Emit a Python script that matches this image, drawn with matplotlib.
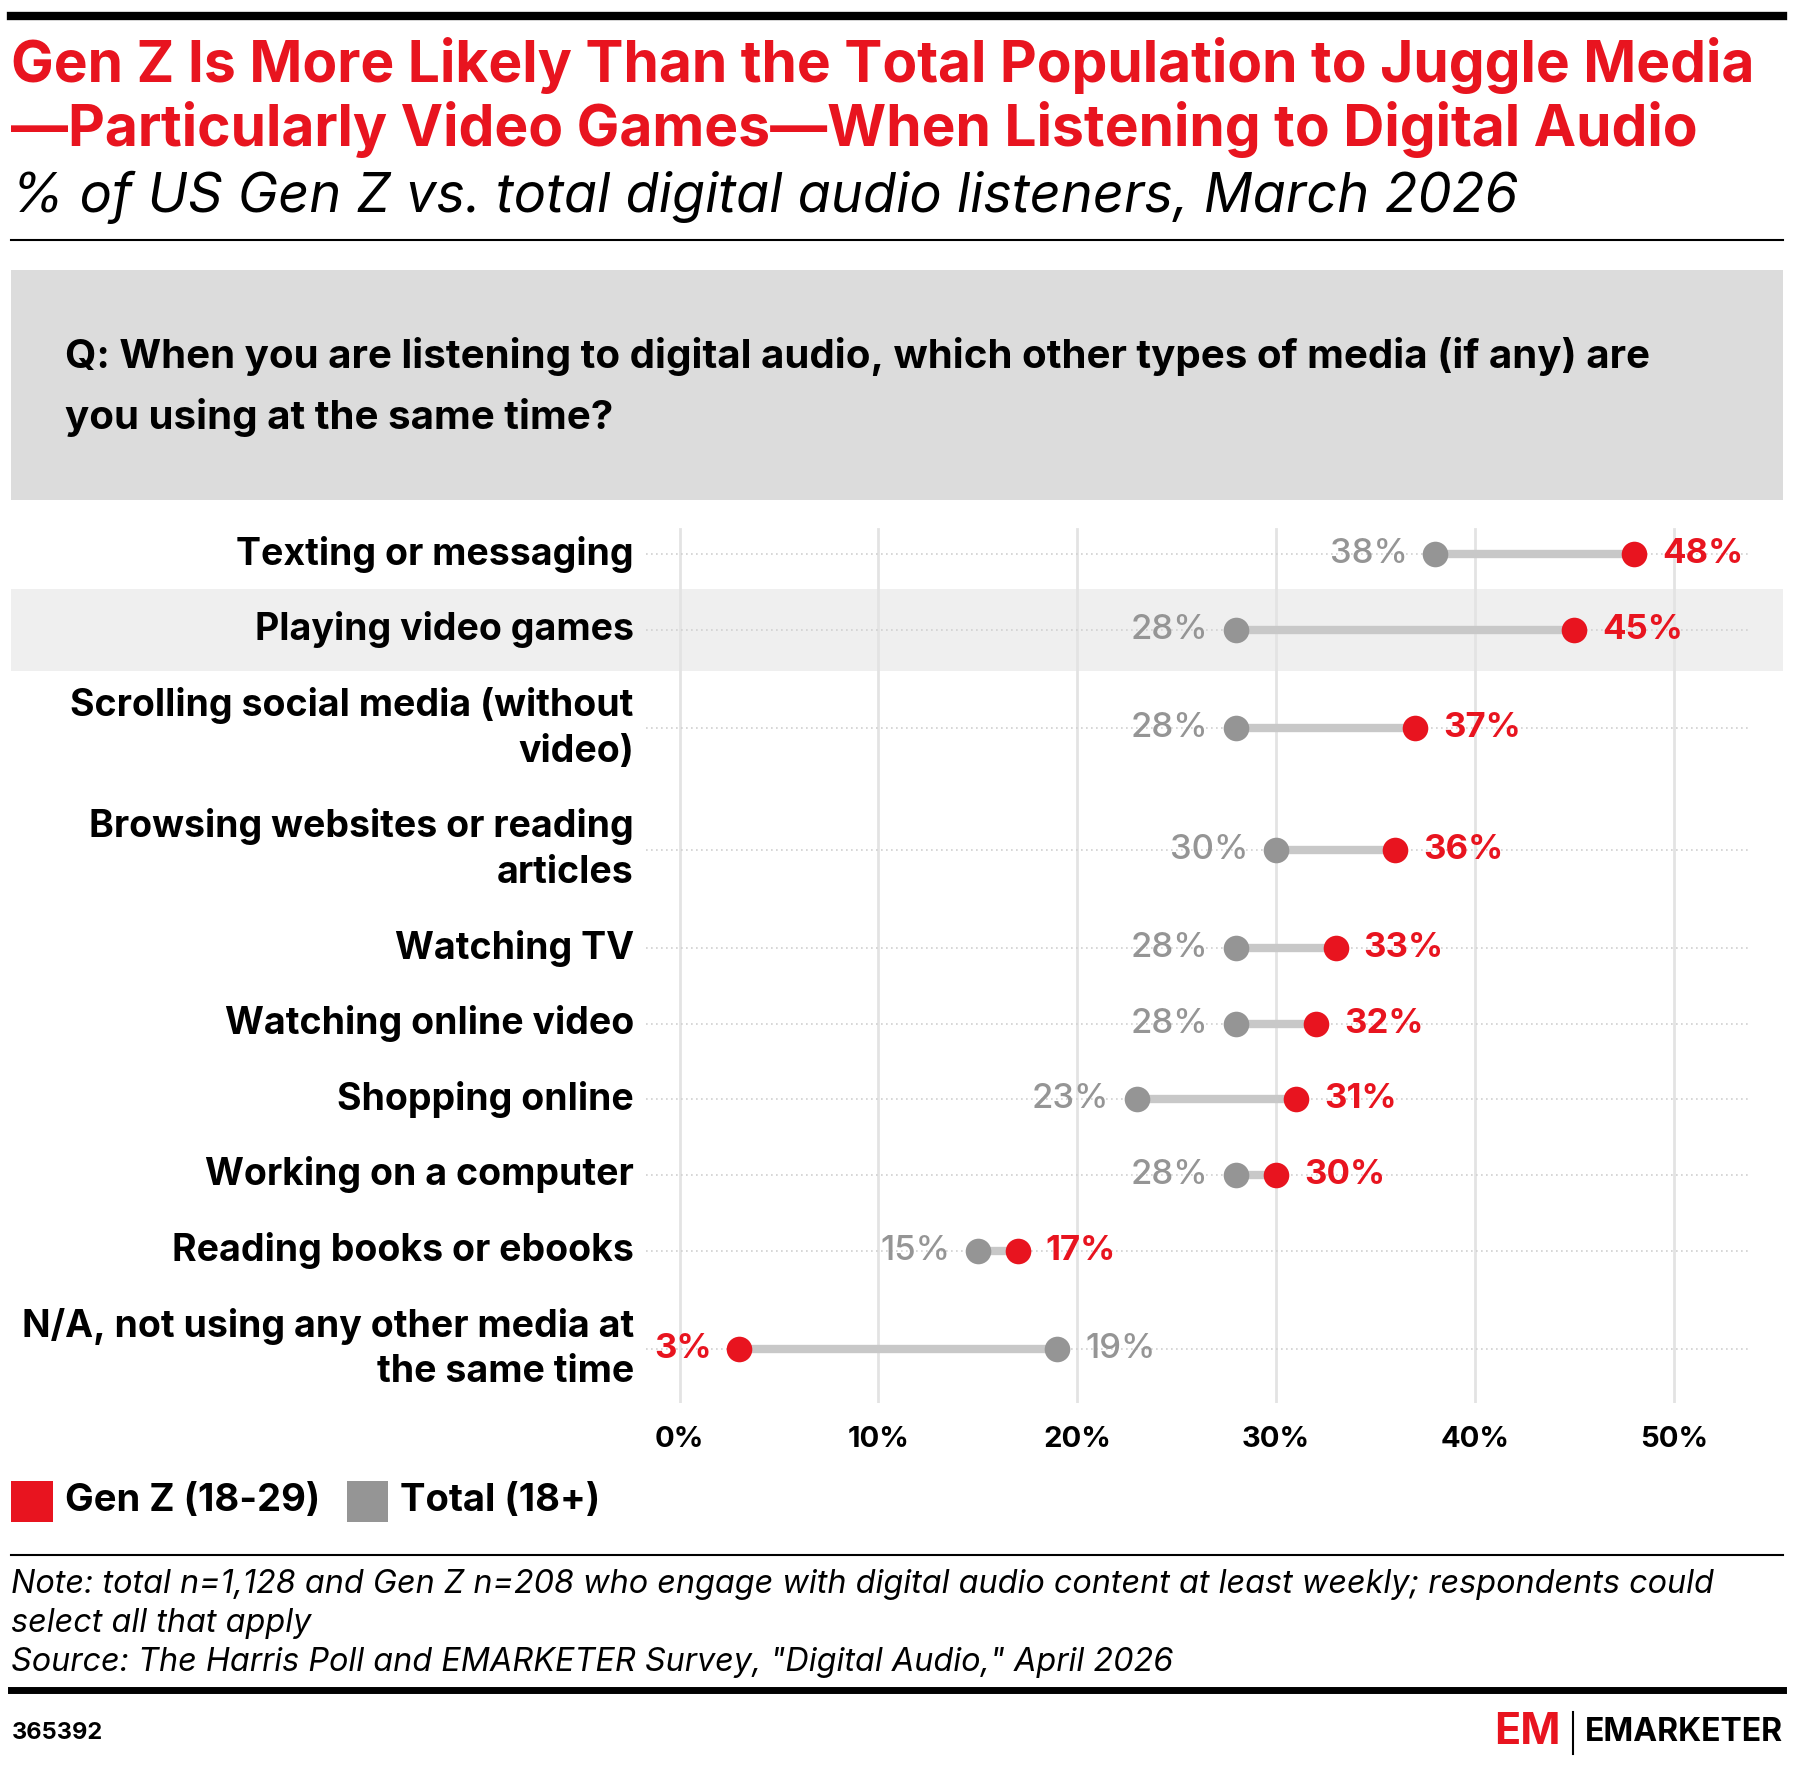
import matplotlib.pyplot as plt
from matplotlib.patches import Rectangle
import numpy as np

categories = ["Texting or messaging", "Playing video games", "Scrolling social media (without\nvideo)",
              "Browsing websites or reading\narticles", "Watching TV", "Watching online video",
              "Shopping online", "Working on a computer", "Reading books or ebooks",
              "N/A, not using any other media at\nthe same time"]
gen_z = [48, 45, 37, 36, 33, 32, 31, 30, 17, 3]
total = [38, 28, 28, 30, 28, 28, 23, 28, 15, 19]
ticks = [0, 10, 20, 30, 40, 50]

RED = "#e8141f"
GRAY = "#959595"
plt.rcParams['font.family'] = ['Inter', 'DejaVu Sans']

W, H = 1568, 1543
fig = plt.figure(figsize=(17.94, 17.67), dpi=100)
fx = lambda x: x / W
fy = lambda y: 1 - y / H

def hline(y, lw):
    fig.add_artist(plt.Line2D([fx(10), fx(1558)], [fy(y), fy(y)], color="black", lw=lw))

hline(14, 6)
fig.text(fx(10), fy(57), "Gen Z Is More Likely Than the Total Population to Juggle Media", color=RED,
         fontsize=41, fontweight="bold", va="center")
fig.text(fx(10), fy(113), "\u2014Particularly Video Games\u2014When Listening to Digital Audio", color=RED,
         fontsize=41, fontweight="bold", va="center")
fig.text(fx(10), fy(172), "% of US Gen Z vs. total digital audio listeners, March 2026", fontsize=39,
         style="italic", va="center")
hline(210, 1.5)

fig.add_artist(Rectangle((fx(10), fy(437)), fx(1548), fy(236) - fy(437), color="#dcdcdc", lw=0))
fig.text(fx(57), fy(311), "Q: When you are listening to digital audio, which other types of media (if any) are",
         fontsize=29, fontweight="bold", va="center")
fig.text(fx(57), fy(365), "you using at the same time?", fontsize=29, fontweight="bold", va="center")

# row layout: height depends on number of label lines
heights = [106 if "\n" in c else 66 for c in categories]
edges = np.concatenate([[0], np.cumsum(heights)])
centers = (edges[:-1] + edges[1:]) / 2
top_off = 484 - centers[0]

ax_top, ax_bot = 451, 1225
ax = fig.add_axes([fx(565), fy(ax_bot), fx(1530) - fx(565), fy(ax_top) - fy(ax_bot)])
ax.set_xlim(-29 * 50 / 869, 50 + 67 * 50 / 869)
ax.set_ylim(ax_bot - ax_top, 0)
ax.axis("off")
ys = centers + (top_off - ax_top)

# highlight band for video games
i = 1
fig.add_artist(Rectangle((fx(10), fy(ys[i] + ax_top + 36)), fx(1548), 72 / H, color="#efefef", lw=0, zorder=0))

for t in ticks:
    ax.plot([t, t], [11, ax_bot - ax_top], color="#e3e3e3", lw=2, zorder=1)
    fig.text(fx(594 + t * 869 / 50), fy(1257), f"{t}%", fontsize=21, fontweight="bold", ha="center", va="center")
for k, y in enumerate(ys):
    ax.plot([-1.67, 53.8], [y, y], color="#d0d0d0", lw=1.2, ls=(0, (1, 2)), zorder=1)
    g, t = gen_z[k], total[k]
    ax.plot([g, t], [y, y], color="#c8c8c8", lw=6, zorder=2, solid_capstyle="butt")
    ax.scatter([t], [y], s=340, color=GRAY, zorder=3, lw=0)
    ax.scatter([g], [y], s=340, color=RED, zorder=4, lw=0)
    sgn = 1 if g >= t else -1
    ax.text(g + sgn * 1.4, y, f"{g}%", color=RED, fontsize=25, fontweight="bold",
            ha="left" if sgn > 0 else "right", va="center")
    ax.text(t - sgn * 1.4, y, f"{t}%", color=GRAY, fontsize=25, fontweight="medium",
            ha="right" if sgn > 0 else "left", va="center")
    fig.text(fx(554), fy(y + ax_top), categories[k], fontsize=27, fontweight="bold", ha="right",
             va="center", linespacing=1.35)

# legend
fig.add_artist(Rectangle((fx(10), fy(1329)), 36 / W, 36 / H, color=RED, lw=0))
fig.text(fx(57), fy(1311), "Gen Z (18-29)", fontsize=27.5, fontweight="bold", va="center")
fig.add_artist(Rectangle((fx(303), fy(1329)), 36 / W, 36 / H, color=GRAY, lw=0))
fig.text(fx(350), fy(1311), "Total (18+)", fontsize=27.5, fontweight="bold", va="center")

hline(1358, 1.5)
for yy, s in [(1384, "Note: total n=1,128 and Gen Z n=208 who engage with digital audio content at least weekly; respondents could"),
              (1418, "select all that apply"),
              (1452, 'Source: The Harris Poll and EMARKETER Survey, "Digital Audio," April 2026')]:
    fig.text(fx(10), fy(yy), s, fontsize=23.3, style="italic", va="center")
hline(1476, 5)
fig.text(fx(10), fy(1513), "365392", fontsize=17, fontweight="bold", va="center")
fig.text(fx(1306), fy(1513), "EM", color=RED, fontsize=31, fontweight="bold", va="center")
fig.add_artist(plt.Line2D([fx(1375), fx(1375)], [fy(1495), fy(1532)], color="black", lw=1.5))
fig.text(fx(1385), fy(1513), "EMARKETER", fontsize=23, fontweight="bold", va="center")

fig.savefig("out.png", dpi=100)
